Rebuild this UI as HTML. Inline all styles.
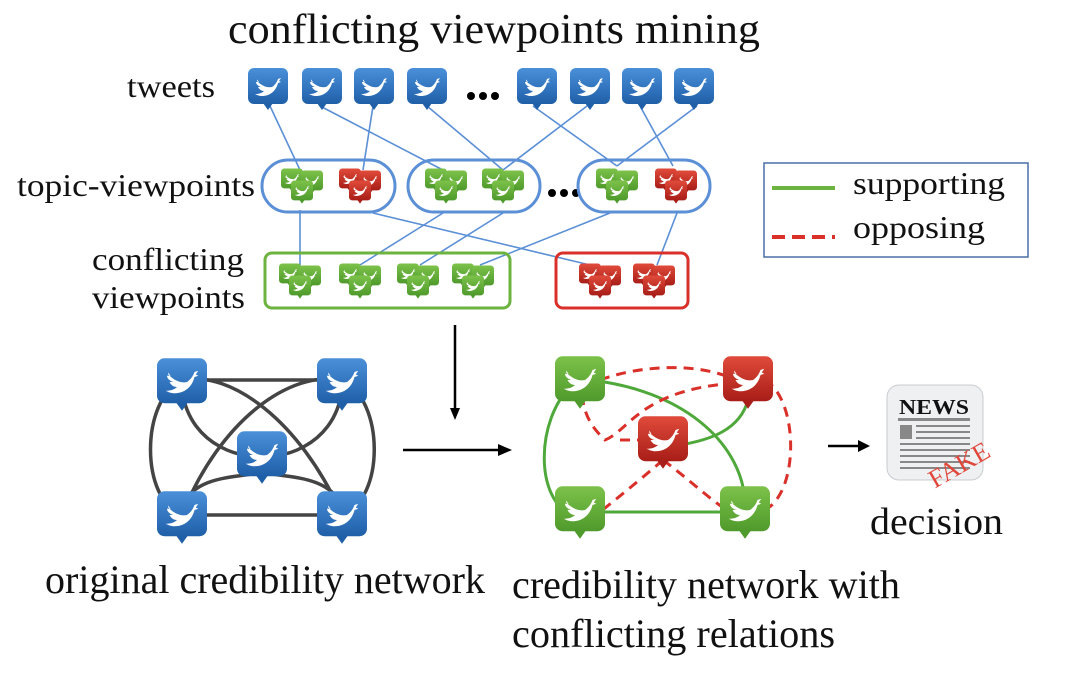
<!DOCTYPE html>
<html><head><meta charset="utf-8"><style>
html,body{margin:0;padding:0;background:#fff;}
svg{display:block;}
text{font-family:"Liberation Serif",serif;fill:#111;}
</style></head><body>
<svg width="1080" height="681" viewBox="0 0 1080 681" xmlns="http://www.w3.org/2000/svg">
<defs>
<linearGradient id="gb" x1="0" y1="0" x2="0" y2="1"><stop offset="0" stop-color="#4a90d9"/><stop offset="1" stop-color="#1f5fa8"/></linearGradient>
<linearGradient id="gg" x1="0" y1="0" x2="0" y2="1"><stop offset="0" stop-color="#7cc24a"/><stop offset="1" stop-color="#4f9a2c"/></linearGradient>
<linearGradient id="gr" x1="0" y1="0" x2="0" y2="1"><stop offset="0" stop-color="#e04a3a"/><stop offset="1" stop-color="#a81e18"/></linearGradient>
<path id="bird" d="M-11,-6 C-6,-1 -1,1 4,0 C7,-2 9,-5 10,-8 L13,-9 L11,-6 L13,-5 L10,-4 C8,4 2,9 -6,9 C-9,9 -11,8 -13,7 C-9,7 -6,6 -4,4 C-7,4 -9,2 -10,0 L-7,0 C-10,-1 -12,-3 -12,-5 L-9,-5 C-11,-7 -11,-9 -11,-6 Z" fill="#fff"/>
<g id="tb"><rect x="-20" y="-19" width="40" height="36" rx="6" fill="url(#gb)"/><path d="M-5,16 L0,23 L5,16Z" fill="#1f5fa8"/><use href="#bird"/></g>
<g id="tg"><rect x="-20" y="-19" width="40" height="36" rx="6" fill="url(#gg)"/><path d="M-5,16 L0,23 L5,16Z" fill="#4f9a2c"/><use href="#bird"/></g>
<g id="tr"><rect x="-20" y="-19" width="40" height="36" rx="6" fill="url(#gr)"/><path d="M-5,16 L0,23 L5,16Z" fill="#a81e18"/><use href="#bird"/></g>
<g id="cg"><use href="#tg" transform="translate(-10,-6) scale(0.55)"/><use href="#tg" transform="translate(10,-4) scale(0.55)"/><use href="#tg" transform="translate(0,6) scale(0.55)"/></g>
<g id="cr"><use href="#tr" transform="translate(-10,-6) scale(0.55)"/><use href="#tr" transform="translate(10,-4) scale(0.55)"/><use href="#tr" transform="translate(0,6) scale(0.55)"/></g>
</defs>

<text x="228" y="43" font-size="42" textLength="532" lengthAdjust="spacingAndGlyphs">conflicting viewpoints mining</text>
<text x="127" y="97" font-size="32" textLength="88" lengthAdjust="spacingAndGlyphs">tweets</text>
<text x="17" y="196" font-size="32" textLength="238" lengthAdjust="spacingAndGlyphs">topic-viewpoints</text>
<text x="92" y="270" font-size="32" textLength="152" lengthAdjust="spacingAndGlyphs">conflicting</text>
<text x="92" y="308" font-size="32" textLength="153" lengthAdjust="spacingAndGlyphs">viewpoints</text>

<g stroke="#5b8fd6" stroke-width="1.6" fill="none">
<line x1="270" y1="106" x2="300" y2="170"/>
<line x1="320" y1="106" x2="443" y2="170"/>
<line x1="373" y1="106" x2="363" y2="170"/>
<line x1="427" y1="106" x2="503" y2="170"/>
<line x1="533" y1="106" x2="617" y2="166"/>
<line x1="587" y1="106" x2="503" y2="170"/>
<line x1="640" y1="106" x2="673" y2="166"/>
<line x1="697" y1="106" x2="617" y2="166"/>
<line x1="300" y1="210" x2="300" y2="268"/>
<line x1="373" y1="213" x2="590" y2="265"/>
<line x1="443" y1="213" x2="360" y2="265"/>
<line x1="503" y1="213" x2="420" y2="265"/>
<line x1="610" y1="213" x2="480" y2="265"/>
<line x1="677" y1="213" x2="657" y2="265"/>
</g>

<use href="#tb" x="268" y="87"/><use href="#tb" x="322" y="87"/><use href="#tb" x="374" y="87"/><use href="#tb" x="427" y="87"/>
<use href="#tb" x="537" y="87"/><use href="#tb" x="590" y="87"/><use href="#tb" x="642" y="87"/><use href="#tb" x="694" y="87"/>
<g fill="#000"><circle cx="471" cy="96" r="4"/><circle cx="483" cy="96" r="4"/><circle cx="495" cy="96" r="4"/>
<circle cx="552" cy="193" r="4"/><circle cx="564" cy="193" r="4"/><circle cx="576" cy="193" r="4"/></g>

<g fill="none" stroke="#5b8fd6" stroke-width="3">
<rect x="262" y="160" width="133" height="52" rx="26"/>
<rect x="408" y="160" width="132" height="52" rx="26"/>
<rect x="578" y="160" width="132" height="52" rx="26"/>
</g>
<use href="#cg" x="302" y="185"/><use href="#cr" x="360" y="185"/>
<use href="#cg" x="446" y="185"/><use href="#cg" x="503" y="185"/>
<use href="#cg" x="617" y="185"/><use href="#cr" x="676" y="185"/>

<rect x="265" y="253" width="245" height="55" rx="7" fill="none" stroke="#6db33f" stroke-width="3"/>
<rect x="556" y="253" width="132" height="55" rx="7" fill="none" stroke="#d9302a" stroke-width="3"/>
<use href="#cg" x="300" y="280"/><use href="#cg" x="360" y="280"/><use href="#cg" x="418" y="280"/><use href="#cg" x="473" y="280"/>
<use href="#cr" x="600" y="280"/><use href="#cr" x="654" y="280"/>

<rect x="764" y="163" width="264" height="94" fill="none" stroke="#4a6fa5" stroke-width="1.5"/>
<line x1="772" y1="188" x2="835" y2="188" stroke="#6db33f" stroke-width="4"/>
<line x1="772" y1="237" x2="835" y2="237" stroke="#d9302a" stroke-width="4" stroke-dasharray="13,7"/>
<text x="853" y="194" font-size="32" textLength="152" lengthAdjust="spacingAndGlyphs">supporting</text>
<text x="853" y="238" font-size="32" textLength="132" lengthAdjust="spacingAndGlyphs">opposing</text>

<g stroke="#000" stroke-width="2.5" fill="#000">
<line x1="455" y1="325" x2="455" y2="410"/><path d="M450,408 L455,420 L460,408Z" stroke="none"/>
<line x1="403" y1="450" x2="500" y2="450"/><path d="M498,444 L512,450 L498,456Z" stroke="none"/>
<line x1="828" y1="446" x2="860" y2="446"/><path d="M858,440 L870,446 L858,452Z" stroke="none"/>
</g>

<g stroke="#444" stroke-width="3.5" fill="none">
<path d="M182,380 C140,400 140,500 182,515"/>
<path d="M342,380 C385,400 385,500 342,515"/>
<path d="M182,380 L342,380"/>
<path d="M182,515 L342,515"/>
<path d="M182,380 C230,370 300,420 342,515"/>
<path d="M342,380 C290,370 220,420 182,515"/>
<path d="M182,390 C190,450 250,460 262,455"/>
<path d="M342,390 C334,450 274,460 262,455"/>
<path d="M182,505 C200,470 250,480 262,470"/>
<path d="M342,505 C324,470 274,480 262,470"/>
</g>
<use href="#tb" transform="translate(182,382) scale(1.25)"/>
<use href="#tb" transform="translate(342,382) scale(1.25)"/>
<use href="#tb" transform="translate(262,455) scale(1.25)"/>
<use href="#tb" transform="translate(182,515) scale(1.25)"/>
<use href="#tb" transform="translate(342,515) scale(1.25)"/>

<g fill="none" stroke-width="3">
<path d="M572,385 C535,420 535,500 572,515" stroke="#4fa83a"/>
<path d="M590,380 C680,390 740,440 745,500" stroke="#4fa83a"/>
<path d="M590,512 L740,512" stroke="#4fa83a"/>
<path d="M680,445 C710,440 740,430 748,400" stroke="#4fa83a"/>
<g stroke="#d9302a" stroke-dasharray="10,7">
<path d="M600,380 C640,365 700,362 735,380"/>
<path d="M765,380 C800,400 800,500 760,512"/>
<path d="M582,395 C585,420 595,430 605,440 C630,430 640,390 735,383"/>
<path d="M663,460 C640,480 615,500 600,512"/>
<path d="M663,460 C690,480 710,500 730,512"/>
<path d="M620,440 L645,440"/>
</g>
</g>
<use href="#tg" transform="translate(580,380) scale(1.25)"/>
<use href="#tr" transform="translate(748,380) scale(1.25)"/>
<use href="#tr" transform="translate(663,440) scale(1.25)"/>
<use href="#tg" transform="translate(580,510) scale(1.25)"/>
<use href="#tg" transform="translate(745,510) scale(1.25)"/>

<rect x="887" y="385" width="96" height="95" rx="12" fill="#eef0f2" stroke="#c8ccd0"/>
<text x="899" y="414" font-size="21" font-weight="bold" textLength="70" lengthAdjust="spacingAndGlyphs">NEWS</text>
<g fill="#888"><rect x="898" y="418" width="72" height="3"/>
<rect x="900" y="425" width="12" height="14"/>
<rect x="916" y="425" width="54" height="2"/><rect x="916" y="431" width="54" height="2"/><rect x="916" y="437" width="54" height="2"/>
<rect x="900" y="443" width="70" height="2"/><rect x="900" y="449" width="70" height="2"/><rect x="900" y="455" width="70" height="2"/><rect x="900" y="461" width="70" height="2"/><rect x="900" y="467" width="70" height="2"/></g>
<text x="925" y="478" font-size="26" transform="rotate(-30 950 465)" style="fill:#e0473a">FAKE</text>
<text x="870" y="534" font-size="38" textLength="133" lengthAdjust="spacingAndGlyphs">decision</text>

<text x="45" y="593" font-size="40" textLength="440" lengthAdjust="spacingAndGlyphs">original credibility network</text>
<text x="512" y="598" font-size="40" textLength="388" lengthAdjust="spacingAndGlyphs">credibility network with</text>
<text x="512" y="647" font-size="40" textLength="323" lengthAdjust="spacingAndGlyphs">conflicting relations</text>
</svg>
</body></html>
